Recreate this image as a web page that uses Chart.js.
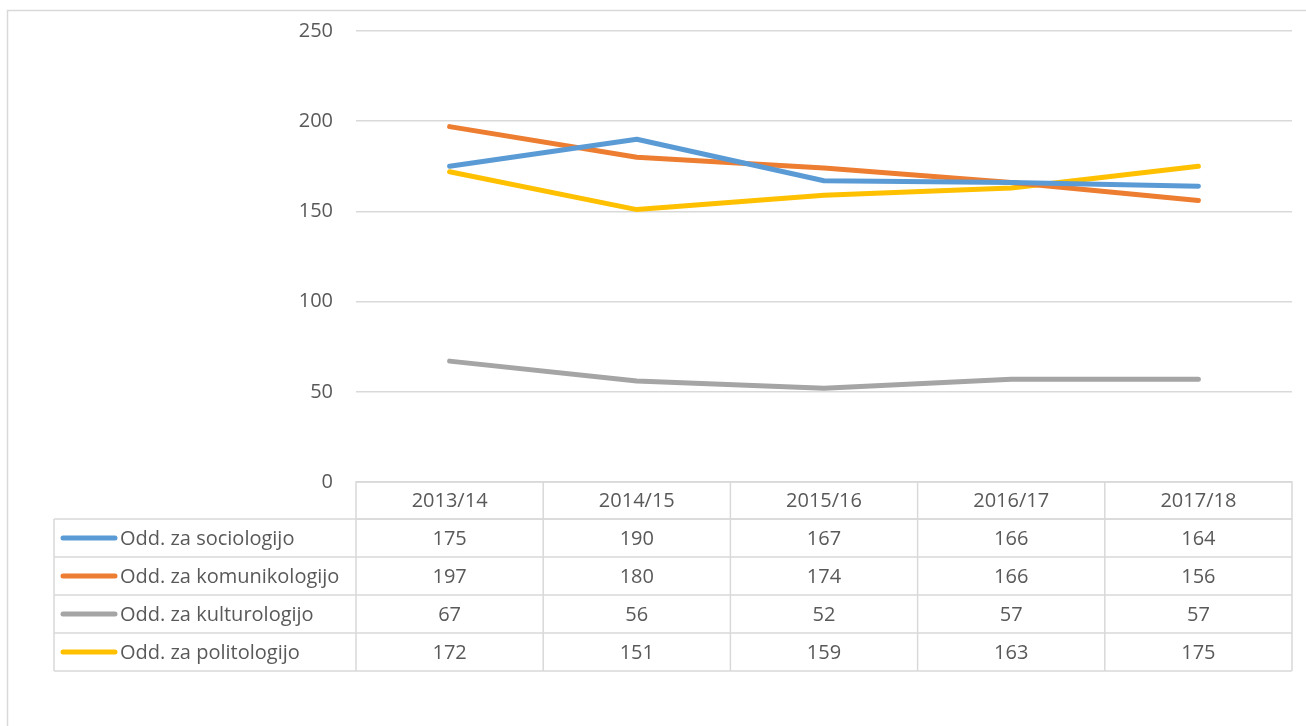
<!DOCTYPE html>
<html>
<head>
<meta charset="utf-8">
<script src="https://cdn.jsdelivr.net/npm/chart.js@4"></script>
<style>
  html, body { margin: 0; padding: 0; background: #fff; }
  #wrap { width: 1306px; height: 726px; position: relative; }
</style>
</head>
<body>
<div id="wrap"><canvas id="chart" width="1306" height="726"></canvas></div>
<script>
const years = ['2013/14', '2014/15', '2015/16', '2016/17', '2017/18'];
const seriesNames = ['Odd. za sociologijo', 'Odd. za komunikologijo', 'Odd. za kulturologijo', 'Odd. za politologijo'];
const sociologija = [175, 190, 167, 166, 164];
const komunikologija = [197, 180, 174, 166, 156];
const kulturologija = [67, 56, 52, 57, 57];
const politologija = [172, 151, 159, 163, 175];
const yTicks = [0, 50, 100, 150, 200, 250];

const seriesColors = ['#5B9BD5', '#ED7D31', '#A5A5A5', '#FFC000']; // office palette
const textColor = '#595959';
const lineGray = '#D9D9D9';
const fontFamily = '"Open Sans", Lato, sans-serif';

const allSeries = [sociologija, komunikologija, kulturologija, politologija];

// draws the frame and the data table under the plot
const dataTablePlugin = {
  id: 'dataTable',
  afterDraw(chart) {
    const ctx = chart.ctx;
    const x = chart.scales.x;
    const area = chart.chartArea;
    const colW = (area.right - area.left) / years.length;
    const headerH = 37;
    const rowH = 38;
    const labelLeft = 54;
    const top = area.bottom;

    ctx.save();
    ctx.strokeStyle = lineGray;
    ctx.lineWidth = 1.5;
    // outer frame
    ctx.strokeRect(7.5, 10.5, 1300, 740);

    // header row
    ctx.strokeRect(area.left, top, area.right - area.left, headerH);
    for (let i = 1; i < years.length; i++) {
      const cx = area.left + colW * i;
      ctx.beginPath();
      ctx.moveTo(cx, top);
      ctx.lineTo(cx, top + headerH + rowH * allSeries.length);
      ctx.stroke();
    }
    // body rows
    const bodyTop = top + headerH;
    for (let r = 0; r <= allSeries.length; r++) {
      ctx.beginPath();
      ctx.moveTo(labelLeft, bodyTop + rowH * r);
      ctx.lineTo(area.right, bodyTop + rowH * r);
      ctx.stroke();
    }
    [labelLeft, area.left, area.right].forEach(vx => {
      ctx.beginPath();
      ctx.moveTo(vx, bodyTop);
      ctx.lineTo(vx, bodyTop + rowH * allSeries.length);
      ctx.stroke();
    });

    ctx.fillStyle = textColor;
    ctx.font = '20px ' + fontFamily;
    ctx.textBaseline = 'middle';
    ctx.textAlign = 'center';
    years.forEach((y, i) => {
      ctx.fillText(y, x.getPixelForTick(i), top + headerH / 2 + 1);
    });

    allSeries.forEach((vals, r) => {
      const cy = bodyTop + rowH * r + rowH / 2 + 1;
      // legend key
      ctx.strokeStyle = seriesColors[r];
      ctx.lineWidth = 5;
      ctx.lineCap = 'round';
      ctx.beginPath();
      ctx.moveTo(63, cy - 1);
      ctx.lineTo(115, cy - 1);
      ctx.stroke();
      ctx.fillStyle = textColor;
      ctx.textAlign = 'left';
      ctx.fillText(seriesNames[r], 120, cy);
      ctx.textAlign = 'center';
      vals.forEach((v, i) => {
        ctx.fillText(String(v), x.getPixelForTick(i), cy);
      });
    });
    ctx.restore();
  },
};

const ctx = document.getElementById('chart').getContext('2d');
new Chart(ctx, {
  type: 'line',
  data: {
    labels: years,
    datasets: allSeries.map((vals, i) => ({
      label: seriesNames[i],
      data: vals,
      borderColor: seriesColors[i],
      backgroundColor: seriesColors[i],
      borderWidth: 5,
      pointRadius: 0,
      tension: 0,
      borderCapStyle: 'round',
      borderJoinStyle: 'round',
    })),
  },
  options: {
    responsive: false,
    animation: false,
    layout: { padding: { top: 31, bottom: 244, right: 14, left: 0 } },
    plugins: {
      legend: { display: false },
      tooltip: { enabled: false },
    },
    scales: {
      x: {
        display: false,
        offset: true,
      },
      y: {
        min: 0,
        max: 250,
        afterBuildTicks(scale) {
          scale.ticks = yTicks.map(v => ({ value: v }));
        },
        afterFit(scale) {
          scale.width = 356;
          scale.paddingTop = 0;
          scale.paddingBottom = 0;
        },
        border: { display: false },
        grid: { color: lineGray, lineWidth: 1.5, drawTicks: false },
        ticks: {
          color: textColor,
          padding: 23,
          font: { family: fontFamily, size: 20 },
        },
      },
    },
  },
  plugins: [dataTablePlugin],
});
</script>
</body>
</html>
